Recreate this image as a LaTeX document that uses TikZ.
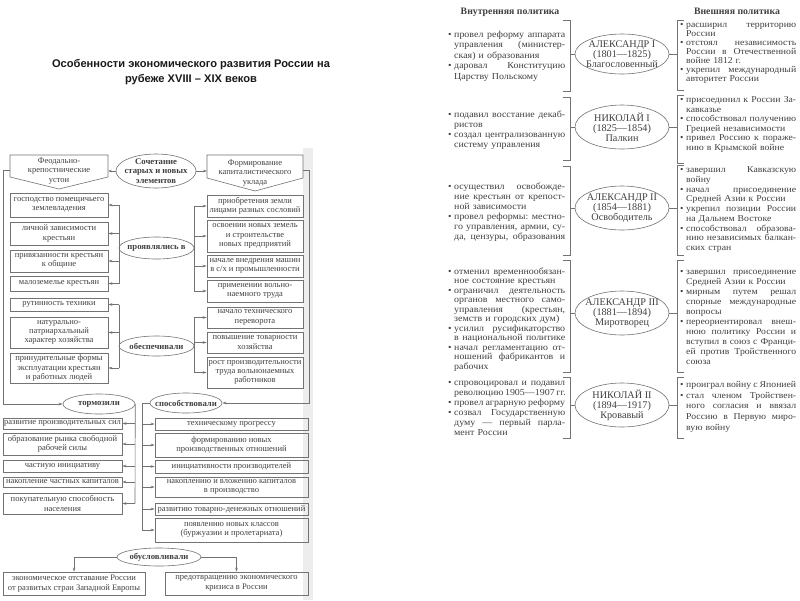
\documentclass[tikz,border=0pt]{standalone}
\usepackage{fontspec}
\setmainfont{Liberation Serif}
\newfontfamily\ttlfont{Liberation Sans}
\newfontfamily\colfont[FakeStretch=1.08]{Liberation Serif}
\usetikzlibrary{arrows.meta,shapes.geometric}
\definecolor{ink}{gray}{0.25}
\definecolor{lin}{gray}{0.45}
\newcommand\jL[1]{\leavevmode\hbox to 111pt{\spaceskip=.25em plus 1fil minus .08em\xspaceskip=\spaceskip #1}}
\newcommand\jR[1]{\leavevmode\hbox to 110pt{\spaceskip=.25em plus 1fil minus .08em\xspaceskip=\spaceskip #1}}
\newcommand\bul{\llap{•\hspace{2.6pt}}}
\newcommand\bx[6]{\node[boxst, minimum width={(#4-#2)*1pt}, minimum height={(#5-#3)*1pt}] (#1) at ({(#2+#4)/2},{(#3+#5)/2}) {#6};}
\tikzset{
  ln/.style={draw=lin, line width=0.6pt},
  arr/.style={ln, -{Stealth[length=4pt,width=2.6pt]}},
  boxst/.style={draw=lin, line width=0.6pt, inner sep=0pt, align=center, text=ink, font=\fontsize{8.5}{9.3}\selectfont},
  boxtext/.style={inner sep=0pt, align=center, text=ink, font=\fontsize{8.5}{9.3}\selectfont},
  lell/.style={ellipse, draw=lin, line width=0.6pt, inner sep=0pt},
  lelltext/.style={inner sep=0pt, align=center, text=ink, font=\bfseries\fontsize{8.7}{9.6}\selectfont},
  rell/.style={ellipse, draw=lin, line width=0.6pt, inner sep=0pt, minimum width=94pt, minimum height=44pt},
  relltext/.style={inner sep=0pt, align=center, text=ink, font=\fontsize{10.2}{10.2}\selectfont},
  brk/.style={draw=lin, line width=0.6pt},
  hdr/.style={inner sep=0pt, text=ink, font=\bfseries\fontsize{9.8}{11}\selectfont},
  colL/.style={anchor=north west, inner sep=0pt, align=left, text width=111pt, text=ink},
  colR/.style={anchor=north west, inner sep=0pt, align=left, text width=110pt, text=ink},
}
\newcommand\lf[1]{\colfont\fontsize{9.2}{#1}\selectfont}
\newcommand\rf[1]{\colfont\fontsize{9}{#1}\selectfont}
\begin{document}
\begin{tikzpicture}[x=1pt,y=-1pt]
\useasboundingbox (0,0) rectangle (800,600);
\fill[white] (0,0) rectangle (800,600);
\fill[black!7] (303,148) rectangle (313,600);

% title
\node[font=\ttlfont\bfseries\fontsize{11.1}{15}\selectfont, align=center, text=black!90] (title) at (191,72.5)
  {Особенности экономического развития России на\\рубеже XVIII – XIX веков};

% ---------- left scheme ----------
\draw[ln, fill=white] (10,155) -- (108,155) -- (108,177) -- (59,189) -- (10,177) -- cycle;
\node[boxtext] (p1) at (59,171) {Феодально-\\крепостнические\\устои};
\coordinate (p1w) at (10,170); \coordinate (p1e) at (108,170);
\draw[ln, fill=white] (207,155) -- (303,155) -- (303,178) -- (255,191) -- (207,178) -- cycle;
\node[boxtext] (p2) at (255,173) {Формирование\\капиталистического\\уклада};
\coordinate (p2w) at (207,171); \coordinate (p2e) at (303,170);

\node[lell, minimum width=80pt, minimum height=34pt] (e1) at (156,171) {};
\node[lelltext] (e1t) at (e1) {Сочетание\\старых и новых\\элементов};
\draw[arr] (e1.west) -- (e1.west -| p1e);
\draw[arr] (e1.east) -- (e1.east -| p2w);

\bx{l1}{10}{193}{108}{217}{господство помещичьего\\землевладения}
\bx{l2}{10}{222}{108}{245}{личной зависимости\\крестьян}
\bx{l3}{10}{250}{108}{272}{привязанности крестьян\\к общине}
\bx{l4}{10}{276}{108}{291}{малоземелье крестьян}
\bx{r1}{207}{195}{303}{217}{приобретения земли\\лицами разных сословий}
\bx{r2}{207}{220}{303}{252}{освоении новых земель\\и строительстве\\новых предприятий}
\bx{r3}{207}{255}{303}{277}{начале внедрения машин\\в с/х и промышленности}
\bx{r4}{207}{280}{303}{302}{применении вольно-\\наемного труда}
\bx{l5}{10}{298}{108}{311}{рутинность техники}
\bx{l6}{10}{317}{108}{348}{натурально-\\патриархальный\\характер хозяйства}
\bx{l7}{10}{353}{108}{383}{принудительные формы\\эксплуатации крестьян\\и работных людей}
\bx{r5}{207}{307}{303}{328}{начало технического\\переворота}
\bx{r6}{207}{332}{303}{353}{повышение товарности\\хозяйства}
\bx{r7}{207}{357}{303}{388}{рост производительности\\труда вольнонаемных\\работников}

\node[lell, minimum width=75pt, minimum height=22pt] (e2) at (156.5,248) {};
\node[lelltext] (e2t) at (e2) {проявлялись в};
\node[lell, minimum width=75pt, minimum height=20pt] (e3) at (156.5,346) {};
\node[lelltext] (e3t) at (e3) {обеспечивали};

\coordinate (lv) at (119,0); \coordinate (rv) at (194,0);
\draw[ln] (lv |- l1.east) -- (lv |- l4.east);
\foreach \n in {l1,l2,l3,l4} \draw[arr] (lv |- \n.east) -- (\n.east);
\draw[ln] (rv |- r1.west) -- (rv |- r4.west);
\foreach \n in {r1,r2,r3,r4} \draw[arr] (rv |- \n.west) -- (\n.west);
\draw[ln] (lv |- l5.east) -- (lv |- l7.east);
\foreach \n in {l5,l6,l7} \draw[arr] (lv |- \n.east) -- (\n.east);
\draw[ln] (rv |- r5.west) -- (rv |- r7.west);
\foreach \n in {r5,r6,r7} \draw[arr] (rv |- \n.west) -- (\n.west);

\node[lell, minimum width=72pt, minimum height=20pt] (e4) at (99,404) {};
\node[lelltext] (e4t) at (e4) {тормозили};
\node[lell, minimum width=72pt, minimum height=20pt] (e5) at (186,403) {};
\node[lelltext] (e5t) at (e5) {способствовали};
\coordinate (lft) at (3,170); \coordinate (rgt) at (309,170);
\draw[arr] (p1w) -- (lft) |- (e4.west);
\draw[arr] (p2e) -- (rgt) |- (e5.east);

\bx{b1}{3}{418}{122}{429}{развитие производительных сил}
\bx{b2}{3}{433}{122}{455}{образование рынка свободной\\рабочей силы}
\bx{b3}{3}{460}{122}{472}{частную инициативу}
\bx{b4}{3}{477}{122}{487}{накопление частных капиталов}
\bx{b5}{3}{493}{122}{514}{покупательную способность\\населения}
\bx{c1}{155}{418}{308}{430}{техническому прогрессу}
\bx{c2}{155}{433}{308}{457}{формированию новых\\производственных отношений}
\bx{c3}{155}{460}{308}{473}{инициативности производителей}
\bx{c4}{155}{477}{308}{497}{накоплению и вложению капиталов\\в производство}
\bx{c5}{155}{503}{308}{515}{развитию товарно-денежных отношений}
\bx{c6}{155}{518}{308}{542}{появлению новых классов\\(буржуазии и пролетариата)}

\coordinate (lv2) at (135,0); \coordinate (rv2) at (142,0);
\draw[ln] (e4.east) -- (lv2 |- b5.east);
\foreach \n in {b1,b2,b3,b4,b5} \draw[arr] (lv2 |- \n.east) -- (\n.east);
\draw[ln] (e5.west) -| (rv2 |- c6.west);
\foreach \n in {c1,c2,c3,c4,c5,c6} \draw[arr] (rv2 |- \n.west) -- (\n.west);

\node[lell, minimum width=84pt, minimum height=18pt] (e6) at (159,557) {};
\node[lelltext] (e6t) at (e6) {обусловливали};
\bx{d1}{3}{572}{145}{595}{экономическое отставание России\\от развитых стран Западной Европы}
\bx{d2}{165}{572}{308}{595}{предотвращению экономического\\кризиса в России}
\draw[arr] (e6.west) -| (d1.north);
\draw[arr] (e6.east) -| (d2.north);

% ---------- right scheme ----------
\node[hdr] (h1) at (510,12) {Внутренняя политика};
\node[hdr] (h2) at (737,11) {Внешняя политика};
\coordinate (lbx) at (570,0); \coordinate (rbx) at (677,0);

% Alexander I
\node[rell, minimum height=40pt] (k1) at (622,54) {};
\node[relltext] (k1t) at (k1) {АЛЕКСАНДР I\\(1801—1825)\\Благословенный};
\node[colL, font=\lf{10.4}] (i1) at (454,30)
 {\strut\jL{\bul провел реформу аппарата}\\\jL{управления (министер-}\\ская) и образования\\\jL{\bul даровал Конституцию}\\Царству Польскому};
\node[colR, font=\rf{9}] (o1) at (686,21)
 {\strut\jR{\bul расширил территорию}\\России\\\jR{\bul отстоял независимость}\\\jR{России в Отечественной}\\войне 1812 г.\\\jR{\bul укрепил международный}\\авторитет России};
\draw[brk] (563,20) -- (570,20) -- (570,91) -- (563,91);
\draw[brk] (k1.west -| lbx) -- (k1.west);
\draw[brk] (684,20) -- (677,20) -- (677,90) -- (684,90);
\draw[brk] (k1.east) -- (k1.east -| rbx);

% Nicholas I
\node[rell] (k2) at (622,127) {};
\node[relltext] (k2t) at (k2) {НИКОЛАЙ I\\(1825—1854)\\Палкин};
\node[colL, font=\lf{10}] (i2) at (454,110.3)
 {\strut\jL{\bul подавил восстание декаб-}\\ристов\\\jL{\bul создал централизованную}\\систему управления};
\node[colR, font=\rf{9.6}] (o2) at (686,95.6)
 {\strut\jR{\bul присоединил к России За-}\\кавказье\\\jR{\bul способствовал получению}\\Грецией независимости\\\jR{\bul привел Россию к пораже-}\\нию в Крымской войне};
\draw[brk] (563,97) -- (570,97) -- (570,160) -- (563,160);
\draw[brk] (k2.west -| lbx) -- (k2.west);
\draw[brk] (684,95) -- (677,95) -- (677,163) -- (684,163);
\draw[brk] (k2.east) -- (k2.east -| rbx);

% Alexander II
\node[rell] (k3) at (622,208) {};
\node[relltext] (k3t) at (k3) {АЛЕКСАНДР II\\(1854—1881)\\Освободитель};
\node[colL, font=\lf{10}] (i3) at (454,182.3)
 {\strut\jL{\bul осуществил освобожде-}\\\jL{ние крестьян от крепост-}\\ной зависимости\\\jL{\bul провел реформы: местно-}\\\jL{го управления, армии, су-}\\\jL{да, цензуры, образования}};
\node[colR, font=\rf{9.75}] (o3) at (686,165.5)
 {\strut\jR{\bul завершил Кавказскую}\\войну\\\jR{\bul начал присоединение}\\Средней Азии к России\\\jR{\bul укрепил позиции России}\\на Дальнем Востоке\\\jR{\bul способствовал образова-}\\\jR{нию независимых балкан-}\\ских стран};
\draw[brk] (563,166) -- (570,166) -- (570,255) -- (563,255);
\draw[brk] (k3.west -| lbx) -- (k3.west);
\draw[brk] (684,165) -- (677,165) -- (677,255) -- (684,255);
\draw[brk] (k3.east) -- (k3.east -| rbx);

% Alexander III
\node[rell] (k4) at (622,313) {};
\node[relltext] (k4t) at (k4) {АЛЕКСАНДР III\\(1881—1894)\\Миротворец};
\node[colL, font=\lf{9.5}] (i4) at (454,267.6)
 {\strut\jL{\bul отменил временнообязан-}\\ное состояние крестьян\\\jL{\bul ограничил деятельность}\\\jL{органов местного само-}\\\jL{управления (крестьян,}\\земств и городских дум)\\\jL{\bul усилил русификаторство}\\\jL{в национальной политике}\\\jL{\bul начал регламентацию от-}\\\jL{ношений фабрикантов и}\\рабочих};
\node[colR, font=\rf{10}] (o4) at (686,267.3)
 {\strut\jR{\bul завершил присоединение}\\Средней Азии к России\\\jR{\bul мирным путем решал}\\\jR{спорные международные}\\вопросы\\\jR{\bul переориентировал внеш-}\\\jR{нюю политику России и}\\\jR{вступил в союз с Франци-}\\\jR{ей против Тройственного}\\союза};
\draw[brk] (563,260) -- (570,260) -- (570,372) -- (563,372);
\draw[brk] (k4.west -| lbx) -- (k4.west);
\draw[brk] (684,260) -- (677,260) -- (677,372) -- (684,372);
\draw[brk] (k4.east) -- (k4.east -| rbx);

% Nicholas II
\node[rell] (k5) at (622,405) {};
\node[relltext] (k5t) at (k5) {НИКОЛАЙ II\\(1894—1917)\\Кровавый};
\node[colL, font=\lf{10}] (i5) at (454,378.3)
 {\strut\jL{\bul спровоцировал и подавил}\\\jL{революцию 1905—1907 гг.}\\\jL{\bul провел аграрную реформу}\\\jL{\bul созвал Государственную}\\\jL{думу — первый парла-}\\мент России};
\node[colR, font=\rf{10.7}] (o5) at (686,379.8)
 {\strut\jR{\bul проиграл войну с Японией}\\\jR{\bul стал членом Тройствен-}\\\jR{ного согласия и ввязал}\\\jR{Россию в Первую миро-}\\вую войну};
\draw[brk] (563,377) -- (570,377) -- (570,438) -- (563,438);
\draw[brk] (k5.west -| lbx) -- (k5.west);
\draw[brk] (684,377) -- (677,377) -- (677,438) -- (684,438);
\draw[brk] (k5.east) -- (k5.east -| rbx);
\end{tikzpicture}
\end{document}
